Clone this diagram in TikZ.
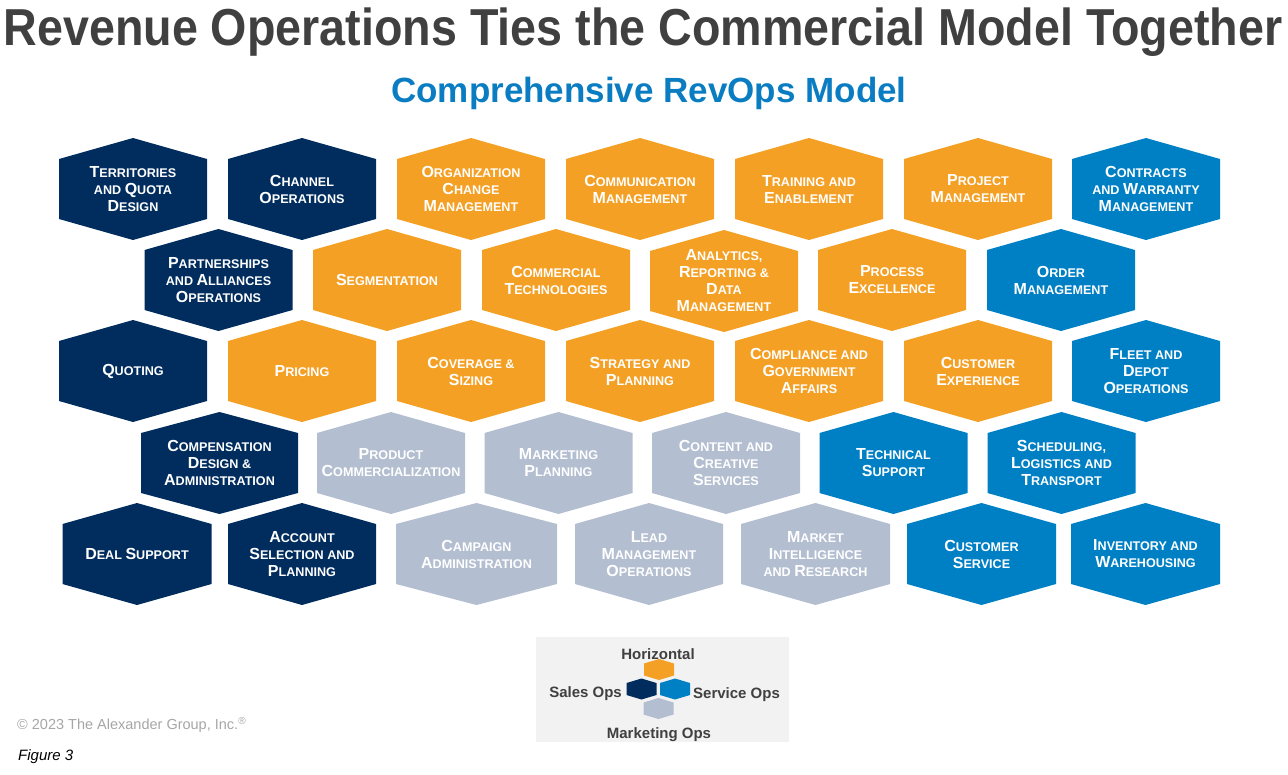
\documentclass[tikz,border=0pt]{standalone}
\usepackage{fontspec}
\setmainfont{Liberation Sans}
\usepackage{graphicx}
\definecolor{navy}{HTML}{002D5E}
\definecolor{orng}{HTML}{F4A024}
\definecolor{sblue}{HTML}{0080C4}
\definecolor{lgray}{HTML}{B3BED0}
\definecolor{titlegray}{HTML}{404040}
\definecolor{subblue}{HTML}{0A7DC2}
\definecolor{legbg}{HTML}{F2F2F2}
\definecolor{copygray}{HTML}{A6A6A6}
\newcommand\bc[1]{{\fontsize{16}{17}\selectfont #1}}
\newcommand\hexa[6]{%
  \fill[#4] ({#2-#5},{#3-30}) -- (#2,{#3-51}) -- ({#2+#5},{#3-30}) -- ({#2+#5},{#3+30}) -- (#2,{#3+51}) -- ({#2-#5},{#3+30}) -- cycle;
  \node[hextext] (#1) at (#2,#3) {#6};}
\newcommand\minihex[4]{%
  \fill[#4] ({#2-15},{#3-6}) -- (#2,{#3-10.5}) -- ({#2+15},{#3-6}) -- ({#2+15},{#3+6}) -- (#2,{#3+10.5}) -- ({#2-15},{#3+6}) -- cycle;
  \coordinate (#1) at (#2,#3);}
\begin{document}
\begin{tikzpicture}[x=1pt,y=-1pt,
  hextext/.style={text=white,align=center,inner sep=0pt,font=\fontsize{12.6}{17}\selectfont\bfseries},
  legtext/.style={text=titlegray,font=\fontsize{15}{18}\selectfont\bfseries,inner sep=0pt}]
\useasboundingbox (0,0) rectangle (1288,774);
% title
\node[text=titlegray,anchor=base,inner sep=0pt] (title) at (643,45) {\scalebox{0.897}[1]{\fontsize{52}{60}\selectfont\bfseries Revenue Operations Ties the Commercial Model Together}};
\node[text=subblue,anchor=base,inner sep=0pt] (subtitle) at (649,102) {\fontsize{35}{40}\selectfont\bfseries Comprehensive RevOps Model};
% row 1
\hexa{a1}{133}{189}{navy}{74}{\bc{T}ERRITORIES\\AND \bc{Q}UOTA\\\bc{D}ESIGN}
\hexa{a2}{302}{189}{navy}{74}{\bc{C}HANNEL\\\bc{O}PERATIONS}
\hexa{a3}{471}{189}{orng}{74}{\bc{O}RGANIZATION\\\bc{C}HANGE\\\bc{M}ANAGEMENT}
\hexa{a4}{640}{189}{orng}{74}{\bc{C}OMMUNICATION\\\bc{M}ANAGEMENT}
\hexa{a5}{809}{189}{orng}{74}{\bc{T}RAINING AND\\\bc{E}NABLEMENT}
\hexa{a6}{978}{189}{orng}{74}{\bc{P}ROJECT\\\bc{M}ANAGEMENT}
\hexa{a7}{1146}{189}{sblue}{74}{\bc{C}ONTRACTS\\AND \bc{W}ARRANTY\\\bc{M}ANAGEMENT}
% row 2
\hexa{b1}{218.5}{280}{navy}{74}{\bc{P}ARTNERSHIPS\\AND \bc{A}LLIANCES\\\bc{O}PERATIONS}
\hexa{b2}{387}{280}{orng}{74}{\bc{S}EGMENTATION}
\hexa{b3}{556}{280}{orng}{74}{\bc{C}OMMERCIAL\\\bc{T}ECHNOLOGIES}
\hexa{b4}{724}{281}{orng}{74}{\bc{A}NALYTICS,\\\bc{R}EPORTING \&\\\bc{D}ATA\\\bc{M}ANAGEMENT}
\hexa{b5}{892}{280}{orng}{74}{\bc{P}ROCESS\\\bc{E}XCELLENCE}
\hexa{b6}{1061}{280}{sblue}{74}{\bc{O}RDER\\\bc{M}ANAGEMENT}
% row 3
\hexa{c1}{133}{371}{navy}{74}{\bc{Q}UOTING}
\hexa{c2}{302}{371}{orng}{74}{\bc{P}RICING}
\hexa{c3}{471}{371}{orng}{74}{\bc{C}OVERAGE \&\\\bc{S}IZING}
\hexa{c4}{640}{371}{orng}{74}{\bc{S}TRATEGY AND\\\bc{P}LANNING}
\hexa{c5}{809}{371}{orng}{74}{\bc{C}OMPLIANCE AND\\\bc{G}OVERNMENT\\\bc{A}FFAIRS}
\hexa{c6}{978}{371}{orng}{74}{\bc{C}USTOMER\\\bc{E}XPERIENCE}
\hexa{c7}{1146}{371}{sblue}{74}{\bc{F}LEET AND\\\bc{D}EPOT\\\bc{O}PERATIONS}
% row 4
\hexa{d1}{219.5}{463}{navy}{78.5}{\bc{C}OMPENSATION\\\bc{D}ESIGN \&\\\bc{A}DMINISTRATION}
\hexa{d2}{391}{463}{lgray}{74}{\bc{P}RODUCT\\\bc{C}OMMERCIALIZATION}
\hexa{d3}{558.5}{463}{lgray}{74}{\bc{M}ARKETING\\\bc{P}LANNING}
\hexa{d4}{726}{463}{lgray}{74}{\bc{C}ONTENT AND\\\bc{C}REATIVE\\\bc{S}ERVICES}
\hexa{d5}{893.5}{463}{sblue}{74}{\bc{T}ECHNICAL\\\bc{S}UPPORT}
\hexa{d6}{1061.5}{463}{sblue}{74}{\bc{S}CHEDULING,\\\bc{L}OGISTICS AND\\\bc{T}RANSPORT}
% row 5
\hexa{e1}{137}{554}{navy}{74.5}{\bc{D}EAL \bc{S}UPPORT}
\hexa{e2}{302}{554}{navy}{74}{\bc{A}CCOUNT\\\bc{S}ELECTION AND\\\bc{P}LANNING}
\hexa{e3}{476.5}{554}{lgray}{80.5}{\bc{C}AMPAIGN\\\bc{A}DMINISTRATION}
\hexa{e4}{649}{554}{lgray}{74}{\bc{L}EAD\\\bc{M}ANAGEMENT\\\bc{O}PERATIONS}
\hexa{e5}{815.5}{554}{lgray}{74.5}{\bc{M}ARKET\\\bc{I}NTELLIGENCE\\AND \bc{R}ESEARCH}
\hexa{e6}{981.5}{554}{sblue}{74.5}{\bc{C}USTOMER\\\bc{S}ERVICE}
\hexa{e7}{1145.5}{554}{sblue}{74.5}{\bc{I}NVENTORY AND\\\bc{W}AREHOUSING}
% legend
\fill[legbg] (536,637) rectangle (789,742);
\minihex{lh}{659}{669.5}{orng}
\minihex{ls}{641.5}{689}{navy}
\minihex{lv}{675}{689}{sblue}
\minihex{lm}{658.5}{708.5}{lgray}
\node[legtext] (lht) at (658,654) {Horizontal};
\node[legtext,anchor=east] (lst) at (622,693.5) {Sales Ops};
\node[legtext,anchor=west] (lvt) at (693,694.5) {Service Ops};
\node[legtext] (lmt) at (659,734.5) {Marketing Ops};
% footer
\node[text=copygray,anchor=west,inner sep=0pt,font=\fontsize{14.5}{17}\selectfont] (copy) at (17,725) {© 2023 The Alexander Group, Inc.\textsuperscript{®}};
\node[text=black,anchor=west,inner sep=0pt,font=\fontsize{15}{17}\selectfont\itshape] (fig) at (18,756.5) {Figure 3};
\end{tikzpicture}
\end{document}
